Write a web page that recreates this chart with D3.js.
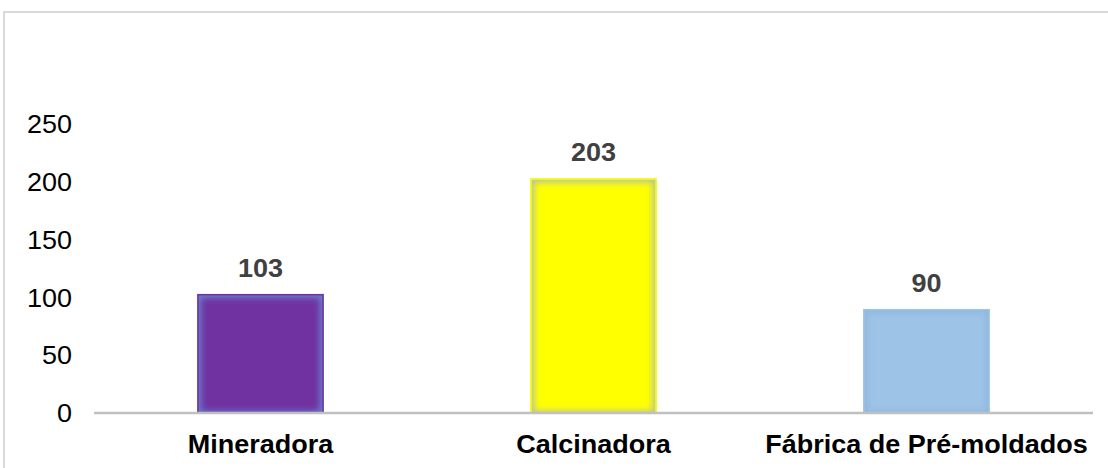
<!DOCTYPE html>
<html>
<head>
<meta charset="utf-8">
<script src="https://cdn.jsdelivr.net/npm/d3@7"></script>
<style>
  html, body { margin: 0; padding: 0; background: #fff; }
  svg { display: block; }
</style>
</head>
<body>
<svg id="chart" width="1108" height="468"></svg>
<script>
// Chart data
const categories = ["Mineradora", "Calcinadora", "Fábrica de Pré-moldados"];
const values = [103, 203, 90];
const barColors = ["#7030A0", "#FFFF00", "#9DC3E6"];
const glowColors = ["#6a80cc", "#b4c2a8", "#8fb6de"];
const yTicks = [0, 50, 100, 150, 200, 250];

const W = 1108, H = 468;
const svg = d3.select("#chart");
const font = "'Liberation Sans', Arial, sans-serif";
const sx = 1.08; // horizontal text stretch
const fs = 25;

// Outer frame
svg.append("rect")
  .attr("x", 4).attr("y", 12)
  .attr("width", W + 20).attr("height", H + 20)
  .attr("fill", "#fff")
  .attr("stroke", "#d9d9d9").attr("stroke-width", 2);

const x = d3.scaleBand()
  .domain(categories)
  .range([94, 1093])
  .paddingInner(0.62)
  .paddingOuter(0.31);

const y = d3.scaleLinear()
  .domain([0, 250])
  .range([413, 124]);

const defs = svg.append("defs");
defs.append("filter").attr("id", "soft")
  .attr("x", "-20%").attr("y", "-20%").attr("width", "140%").attr("height", "140%")
  .append("feGaussianBlur").attr("stdDeviation", 3);

// Bars with a soft inner edge shade
categories.forEach((c, i) => {
  const bx = x(c), bw = x.bandwidth(), by = y(values[i]), bh = y(0) - y(values[i]);
  defs.append("clipPath").attr("id", "clip" + i)
    .append("rect").attr("x", bx).attr("y", by).attr("width", bw).attr("height", bh);
  const g = svg.append("g").attr("clip-path", `url(#clip${i})`);
  g.append("rect").attr("x", bx).attr("y", by).attr("width", bw).attr("height", bh)
    .attr("fill", glowColors[i]);
  g.append("rect").attr("x", bx + 4).attr("y", by + 4)
    .attr("width", Math.max(0, bw - 8)).attr("height", Math.max(0, bh - 6))
    .attr("fill", barColors[i]).attr("filter", "url(#soft)");
  svg.append("rect").attr("x", bx + 0.75).attr("y", by + 0.75)
    .attr("width", bw - 1.5).attr("height", bh - 0.75)
    .attr("fill", "none").attr("stroke", barColors[i]).attr("stroke-width", 1.5);
});

// Baseline
svg.append("line")
  .attr("x1", 94).attr("x2", 1093)
  .attr("y1", y(0)).attr("y2", y(0))
  .attr("stroke", "#c0c0c0").attr("stroke-width", 2.5);

// Y axis labels
const yAxis = d3.axisLeft(y).tickValues(yTicks).tickSize(0).tickPadding(0);
const ya = svg.append("g").attr("transform", "translate(72,0)").call(yAxis);
ya.select(".domain").remove();
ya.selectAll(".tick text")
  .attr("x", 0).attr("dy", null)
  .attr("dominant-baseline", "central")
  .attr("transform", `scale(${sx},1)`)
  .attr("font-family", font).attr("font-size", fs)
  .attr("fill", "#000")
  .attr("text-anchor", "end");

// Category labels
const xAxis = d3.axisBottom(x).tickSize(0).tickPadding(0);
const xa = svg.append("g").attr("transform", "translate(0,453)").call(xAxis);
xa.select(".domain").remove();
xa.selectAll(".tick text")
  .attr("y", 0).attr("dy", null)
  .attr("transform", `scale(${sx},1)`)
  .attr("font-family", font).attr("font-size", fs).attr("font-weight", "bold")
  .attr("fill", "#000");

// Value labels
svg.selectAll("text.val")
  .data(values)
  .join("text")
  .attr("class", "val")
  .attr("transform", (d, i) => `translate(${x(categories[i]) + x.bandwidth() / 2},${y(d) - 17}) scale(${sx},1)`)
  .attr("text-anchor", "middle")
  .attr("font-family", font).attr("font-size", fs).attr("font-weight", "bold")
  .attr("fill", "#404040")
  .text(d => d);
</script>
</body>
</html>
